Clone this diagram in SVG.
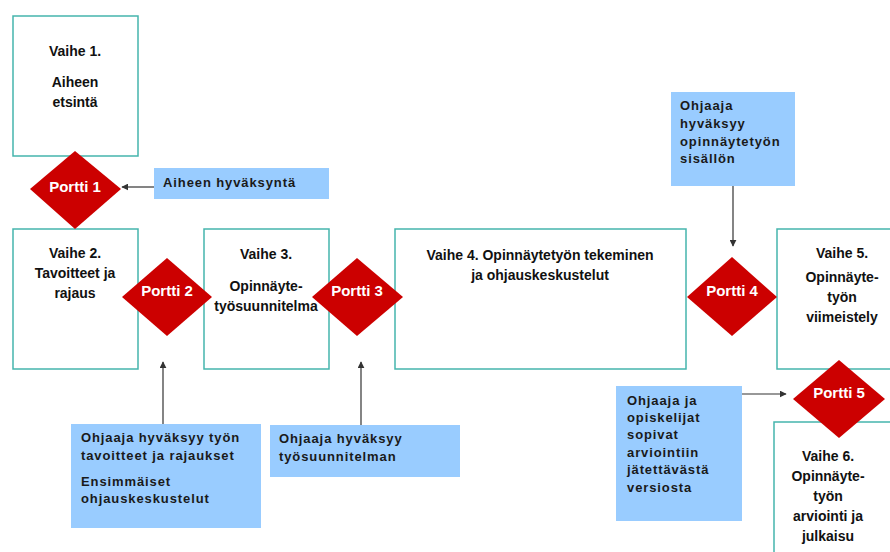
<svg xmlns="http://www.w3.org/2000/svg" width="890" height="552" viewBox="0 0 890 552">
<defs>
<style>
.stage{fill:#ffffff;stroke:#45b5ad;stroke-width:1.5}
.gate{fill:#cc0000}
.note{fill:#99ccff}
.st{font-family:"Liberation Sans",Arial,sans-serif;font-weight:bold;font-size:14px;fill:#111111;text-anchor:middle}
.gt{font-family:"Liberation Sans",Arial,sans-serif;font-weight:bold;font-size:15px;fill:#ffffff;text-anchor:middle}
.nt{font-family:"Liberation Sans",Arial,sans-serif;font-weight:bold;font-size:13px;fill:#1a1a1a;letter-spacing:0.9px}
.conn{stroke:#333333;stroke-width:1.2;fill:none;marker-end:url(#ah)}
</style>
<marker id="ah" viewBox="0 0 10 10" refX="9" refY="5" markerWidth="7" markerHeight="7" orient="auto" markerUnits="userSpaceOnUse">
<path d="M0,0 L10,5 L0,10 z" fill="#333333"/>
</marker>
</defs>
<rect width="890" height="552" fill="#ffffff"/>

<g id="vaihe1">
<rect class="stage" x="13" y="16" width="125" height="140"/>
<text class="st" x="75" y="56">Vaihe 1.</text>
<text class="st" x="75" y="87">Aiheen</text>
<text class="st" x="75" y="107">etsintä</text>
</g>

<g id="vaihe2">
<rect class="stage" x="13" y="229" width="125" height="140"/>
<text class="st" x="75" y="258">Vaihe 2.</text>
<text class="st" x="75" y="278">Tavoitteet ja</text>
<text class="st" x="75" y="298">rajaus</text>
</g>

<g id="vaihe3">
<rect class="stage" x="204" y="229" width="125" height="140"/>
<text class="st" x="266" y="259">Vaihe 3.</text>
<text class="st" x="266" y="291">Opinnäyte-</text>
<text class="st" x="266" y="311">työsuunnitelma</text>
</g>

<g id="vaihe4">
<rect class="stage" x="395" y="229" width="291" height="140"/>
<text class="st" x="540" y="260">Vaihe 4. Opinnäytetyön tekeminen</text>
<text class="st" x="540" y="280">ja ohjauskeskustelut</text>
</g>

<g id="vaihe5">
<rect class="stage" x="777" y="229" width="125" height="140"/>
<text class="st" x="842" y="258">Vaihe 5.</text>
<text class="st" x="842" y="282">Opinnäyte-</text>
<text class="st" x="842" y="302">työn</text>
<text class="st" x="842" y="322">viimeistely</text>
</g>

<g id="vaihe6">
<rect class="stage" x="774" y="422" width="130" height="140"/>
<text class="st" x="828" y="461">Vaihe 6.</text>
<text class="st" x="828" y="481">Opinnäyte-</text>
<text class="st" x="828" y="501">työn</text>
<text class="st" x="828" y="521">arviointi ja</text>
<text class="st" x="828" y="541">julkaisu</text>
</g>

<g id="portti1">
<polygon class="gate" points="75,151 121,189 75,229 30,189"/>
<text class="gt" x="75" y="192">Portti 1</text>
</g>
<g id="portti2">
<polygon class="gate" points="167,258 212,297 167,336 122,297"/>
<text class="gt" x="167" y="296">Portti 2</text>
</g>
<g id="portti3">
<polygon class="gate" points="357,258 403,297 357,336 312,297"/>
<text class="gt" x="357" y="296">Portti 3</text>
</g>
<g id="portti4">
<polygon class="gate" points="732,257 777,297 732,336 687,297"/>
<text class="gt" x="732" y="296">Portti 4</text>
</g>
<g id="portti5">
<polygon class="gate" points="839,360 885,399 839,438 793,399"/>
<text class="gt" x="839" y="398">Portti 5</text>
</g>

<g id="note-aihe">
<rect class="note" x="154" y="168" width="175" height="31"/>
<text class="nt" x="163" y="187">Aiheen hyväksyntä</text>
</g>
<g id="note-tavoitteet">
<rect class="note" x="71" y="424" width="190" height="104"/>
<text class="nt" x="81" y="442">Ohjaaja hyväksyy työn</text>
<text class="nt" x="81" y="460">tavoitteet ja rajaukset</text>
<text class="nt" x="81" y="486">Ensimmäiset</text>
<text class="nt" x="81" y="503">ohjauskeskustelut</text>
</g>
<g id="note-suunnitelma">
<rect class="note" x="270" y="425" width="190" height="52"/>
<text class="nt" x="279" y="443">Ohjaaja hyväksyy</text>
<text class="nt" x="279" y="461">työsuunnitelman</text>
</g>
<g id="note-sisalto">
<rect class="note" x="671" y="92" width="124" height="94"/>
<text class="nt" x="680" y="110">Ohjaaja</text>
<text class="nt" x="680" y="128">hyväksyy</text>
<text class="nt" x="680" y="146">opinnäytetyön</text>
<text class="nt" x="680" y="163">sisällön</text>
</g>
<g id="note-versio">
<rect class="note" x="616" y="386" width="126" height="135"/>
<text class="nt" x="627" y="405">Ohjaaja ja</text>
<text class="nt" x="627" y="422">opiskelijat</text>
<text class="nt" x="627" y="439">sopivat</text>
<text class="nt" x="627" y="457">arviointiin</text>
<text class="nt" x="627" y="474">jätettävästä</text>
<text class="nt" x="627" y="492">versiosta</text>
</g>

<g id="connectors">
<line class="conn" x1="154" y1="187" x2="122" y2="187"/>
<line class="conn" x1="163" y1="424" x2="163" y2="362"/>
<line class="conn" x1="361" y1="425" x2="361" y2="362"/>
<line class="conn" x1="733" y1="186" x2="733" y2="246"/>
<line class="conn" x1="742" y1="394" x2="786" y2="394"/>
</g>
</svg>
